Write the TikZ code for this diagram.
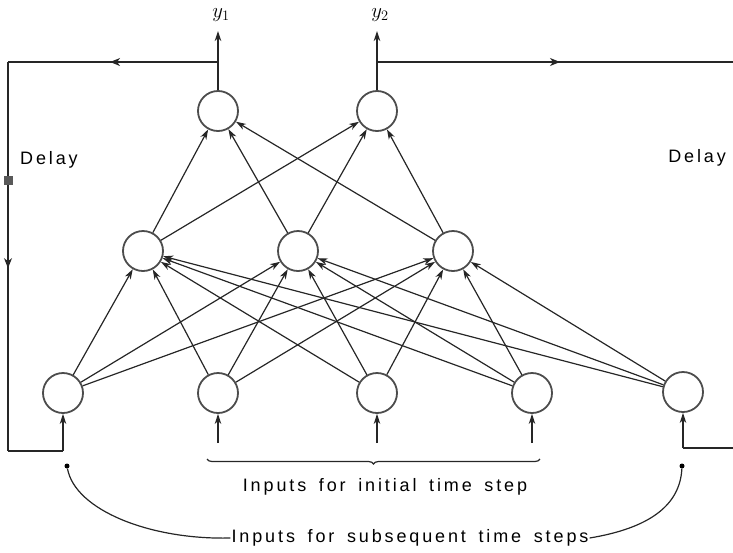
\documentclass[tikz,border=0pt]{standalone}
\usepackage{fontspec}
\setmainfont{Liberation Sans}[LetterSpace=16,WordSpace=1.6]
\usetikzlibrary{arrows.meta,decorations.pathreplacing,decorations.markings}
\begin{document}
\begin{tikzpicture}[x=1pt,y=-1pt,
 neuron/.style={circle,draw=black!70,line width=1.8pt,minimum size=40pt,inner sep=0pt},
 conn/.style={draw=black!85,line width=1.2pt,-{Stealth[length=10pt,width=6.5pt,inset=3pt]}},
 wire/.style={draw=black!85,line width=1.2pt},
 lbl/.style={font=\fontsize{18}{21}\selectfont,inner sep=1pt},
 midarrow/.style={postaction={decorate},decoration={markings,mark=at position #1 with {\arrow{Stealth[length=10pt,width=8pt,inset=3pt]}}}}
]
\useasboundingbox (0,0) rectangle (733,552);
% neurons
\node[neuron] (i1) at (63,393) {};
\node[neuron] (i2) at (218,393) {};
\node[neuron] (i3) at (377,393) {};
\node[neuron] (i4) at (532,393) {};
\node[neuron] (c) at (683,392) {};
\node[neuron] (h1) at (143,251) {};
\node[neuron] (h2) at (298,251) {};
\node[neuron] (h3) at (453,251) {};
\node[neuron] (o1) at (218,111) {};
\node[neuron] (o2) at (377,111) {};
% connections
\foreach \s in {i1,i2,i3,i4,c}
  \foreach \t in {h1,h2,h3}
    \draw[conn] (\s) -- (\t);
\foreach \s in {h1,h2,h3}
  \foreach \t in {o1,o2}
    \draw[conn] (\s) -- (\t);
% outputs
\coordinate (y1t) at (218,31);
\coordinate (y2t) at (377,31);
\draw[conn] (o1) -- (y1t);
\draw[conn] (o2) -- (y2t);
\node[font=\fontsize{21}{24}\selectfont,inner sep=1pt] (ly1) at (221,15) {$y_{1}$};
\node[font=\fontsize{21}{24}\selectfont,inner sep=1pt] (ly2) at (380,15) {$y_{2}$};
% left feedback loop
\coordinate (j1) at (218,62);
\coordinate (lt) at (8,62);
\coordinate (lb) at (8,451);
\coordinate (i1b) at (63,451);
\draw[wire,midarrow=0.514] (j1) -- (lt);
\draw[wire,midarrow=0.53] (lt) -- (lb);
\draw[wire] (lb) -- (i1b);
\draw[conn] (i1b) -- (i1);
\node[fill=black!65,minimum size=9pt,inner sep=0pt] (d1) at (8,180) {};
\node[lbl,anchor=west] (dl1) at (19,160) {Delay};
% right feedback loop
\coordinate (j2) at (377,62);
\coordinate (rt) at (733,62);
\coordinate (rb) at (733,448);
\coordinate (cb) at (683,448);
\draw[wire,midarrow=0.514] (j2) -- (rt);
\draw[wire] (rb) -- (cb);
\draw[conn] (cb) -- (c);
\node[fill=black!65,minimum size=9pt,inner sep=0pt] (d2) at (737,178) {};
\node[lbl,anchor=east] (dl2) at (727,158) {Delay};
% input stubs
\coordinate (s2) at (218,443);
\coordinate (s3) at (377,443);
\coordinate (s4) at (532,443);
\draw[conn] (s2) -- (i2);
\draw[conn] (s3) -- (i3);
\draw[conn] (s4) -- (i4);
% brace and texts
\draw[wire,decorate,decoration={brace,amplitude=5pt,mirror}] (207,459) -- (540,459);
\node[lbl] (t1) at (385,487) {Inputs for initial time step};
\node[lbl] (t2) at (410,538) {Inputs for subsequent time steps};
\node[circle,fill=black,inner sep=0pt,minimum size=5pt] (dotl) at (67,466) {};
\node[circle,fill=black,inner sep=0pt,minimum size=5pt] (dotr) at (682,466) {};
\draw[wire] (dotl) .. controls (75,510) and (150,540) .. (t2.west);
\draw[wire] (dotr) .. controls (680,505) and (650,528) .. (t2.east);
\end{tikzpicture}
\end{document}
